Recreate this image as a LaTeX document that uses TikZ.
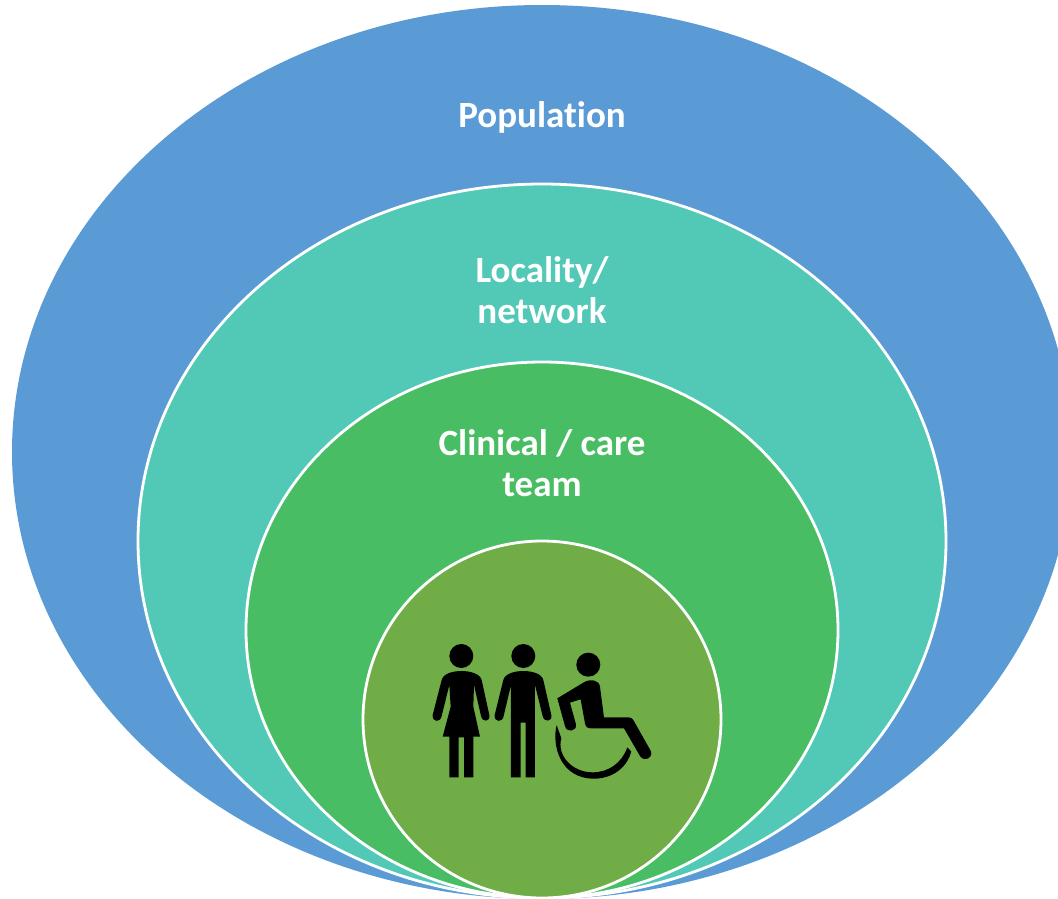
\documentclass[tikz,border=0pt]{standalone}
\usepackage{fontspec}
\setmainfont[RawFeature={-liga;-clig}]{Carlito}
\usetikzlibrary{shapes.geometric}
\definecolor{popblue}{HTML}{5B9BD5}
\definecolor{netteal}{HTML}{52C9B6}
\definecolor{teamgreen}{HTML}{48BD63}
\definecolor{coreolive}{HTML}{70AD47}
\tikzset{
  ring/.style={ellipse,inner sep=0pt,outer sep=0pt,draw=white,line width=2.8pt},
  lab/.style={text=white,font=\fontsize{37}{41}\selectfont\bfseries,align=center,inner sep=0pt},
  glyph/.style={fill=black,draw=none}
}
\begin{document}
\begin{tikzpicture}[x=1pt,y=-1pt]
\useasboundingbox (0,0) rectangle (1058,898);
\clip (0,0) rectangle (1058,898);
\node[ellipse,inner sep=0pt,fill=popblue,minimum width=1060pt,minimum height=894pt] (population) at (542,452) {};
\node[ring,fill=netteal,minimum width=808pt,minimum height=714pt] (locality) at (542,541) {};
\node[ring,fill=teamgreen,minimum width=592pt,minimum height=536pt] (team) at (542,630) {};
\node[ring,fill=coreolive,minimum width=358pt,minimum height=357pt] (core) at (542,719.5) {};
\node[lab] (poplabel) at (542,117) {Population};
\node[lab] (loclabel) at (542,290.5) {Locality/\\network};
\node[lab] (teamlabel) at (542,463.5) {Clinical / care\\team};
\begin{scope}[shift={(420,630)},x=0.3333pt,y=-0.3333pt]
  % woman
  \fill[glyph] (124,78) circle[radius=36];
  \fill[glyph] (124,123) .. controls (100,123) and (70,130) .. (65,150)
    -- (38,255) .. controls (36,278) and (62,278) .. (65,258)
    -- (88,165) -- (92,230) -- (68,320) -- (88,320) -- (88,442) -- (116,442)
    -- (116,322) -- (132,322) -- (132,442) -- (160,442) -- (160,320) -- (180,320)
    -- (160,230) -- (162,165) -- (183,258) .. controls (187,278) and (212,276) .. (208,255)
    -- (185,150) .. controls (180,130) and (148,123) .. (124,123) -- cycle;
  % man
  \fill[glyph] (310,78) circle[radius=36];
  \fill[glyph] (310,123) .. controls (286,123) and (255,130) .. (250,150)
    -- (224,255) .. controls (222,278) and (248,278) .. (251,258)
    -- (273,165) -- (273,442) -- (302,442) -- (302,278) -- (317,278) -- (317,442)
    -- (345,442) -- (345,165) -- (368,258) .. controls (372,278) and (398,276) .. (394,255)
    -- (370,150) .. controls (365,130) and (334,123) .. (310,123) -- cycle;
  % wheelchair user
  \fill[glyph] (505,104) circle[radius=36];
  \fill[glyph] (412,205) -- (490,158) .. controls (510,145) and (538,150) .. (540,170)
    -- (552,262) -- (625,262) .. controls (633,262) and (637,265) .. (640,270)
    -- (692,362) .. controls (702,384) and (672,398) .. (660,378)
    -- (612,295) -- (515,295) .. controls (503,295) and (497,292) .. (495,280)
    -- (482,208) -- (450,218) -- (468,283) .. controls (472,304) and (440,310) .. (435,288) -- cycle;
  \fill[glyph] (410,285) .. controls (395,345) and (420,446) .. (522,446)
    .. controls (580,446) and (622,410) .. (634,365) -- (622,352)
    .. controls (605,400) and (565,427) .. (518,427)
    .. controls (455,427) and (410,375) .. (424,325) -- cycle;
\end{scope}
\end{tikzpicture}
\end{document}
